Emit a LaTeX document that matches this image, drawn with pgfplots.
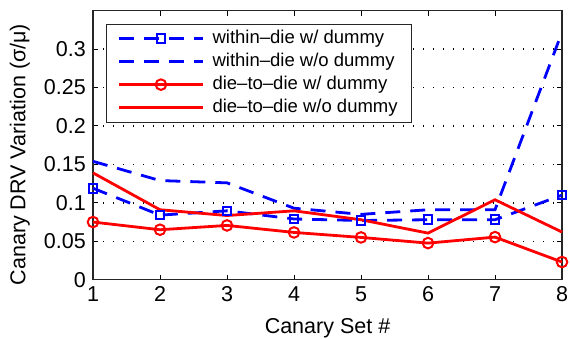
\documentclass[border=0pt]{standalone}
\usepackage{pgfplots}
\pgfplotsset{compat=1.18}
\usepackage{fontspec}
\setmainfont{Liberation Sans}
\definecolor{mblue}{RGB}{0,0,255}
\definecolor{mred}{RGB}{255,0,0}
\begin{document}
\fontsize{21bp}{25bp}\selectfont
\begin{tikzpicture}
\begin{axis}[
  scale only axis, width=469bp, height=269bp,
  xmin=1, xmax=8, ymin=0, ymax=0.35,
  xtick={1,2,3,4,5,6,7,8},
  ytick={0,0.05,0.1,0.15,0.2,0.25,0.3},
  yticklabels={0,0.05,0.1,0.15,0.2,0.25,0.3},
  /pgf/number format/assume math mode=true,
  ticklabel style={font=\fontsize{21.5bp}{25bp}\selectfont},
  tick align=inside, tick pos=both,
  major tick length=5bp,
  tick style={line width=1bp, black},
  ymajorgrids,
  major grid style={black, line width=1.4bp, dash pattern=on 1.4bp off 8.6bp},
  axis line style={line width=1.1bp, black!85},
  xlabel={Canary Set \#},
  ylabel={Canary DRV Variation (σ/μ)},
  label style={font=\fontsize{21.5bp}{25bp}\selectfont},
  xlabel style={at={(axis description cs:0.5,-0.182)}, anchor=center},
  ylabel style={at={(axis description cs:-0.156,0.465)}, anchor=center},
  legend cell align=left,
  legend style={at={(rel axis cs:0,1)}, anchor=north west, xshift=13bp, yshift=-13bp,
    font=\fontsize{18.5bp}{22bp}\selectfont, draw=black!85, line width=1.1bp,
    nodes={inner sep=3.2bp}, inner xsep=11bp, inner ysep=3bp,
    /tikz/every odd column/.append style={column sep=5bp}},
  legend image code/.code={\draw[mark repeat=2,mark phase=2,#1] plot coordinates {(0bp,0bp)(42bp,0bp)(84bp,0bp)};},
  clip=false,
]
\addplot[mblue, line width=2.8bp, dash pattern=on 15bp off 10bp, mark=square, mark size=4.3bp, mark options={solid, line width=2bp}]
  coordinates {(1,0.119)(2,0.084)(3,0.0896)(4,0.079)(5,0.077)(6,0.078)(7,0.078)(8,0.110)};
\addlegendentry{within–die w/ dummy}
\addplot[mblue, line width=2.8bp, dash pattern=on 15bp off 10bp]
  coordinates {(1,0.154)(2,0.129)(3,0.126)(4,0.093)(5,0.085)(6,0.091)(7,0.091)(8,0.322)};
\addlegendentry{within–die w/o dummy}
\addplot[mred, line width=2.8bp, mark=o, mark size=5.3bp, mark options={solid, line width=2bp}]
  coordinates {(1,0.075)(2,0.065)(3,0.0706)(4,0.0615)(5,0.055)(6,0.0476)(7,0.0554)(8,0.023)};
\addlegendentry{die–to–die w/ dummy}
\addplot[mred, line width=2.8bp]
  coordinates {(1,0.139)(2,0.091)(3,0.0835)(4,0.0896)(5,0.078)(6,0.0606)(7,0.104)(8,0.062)};
\addlegendentry{die–to–die w/o dummy}
\coordinate (bl) at (rel axis cs:0,0);
\coordinate (tr) at (rel axis cs:1,1);
\end{axis}
\pgfresetboundingbox
\path[use as bounding box] ([shift={(-93bp,-59bp)}]bl) rectangle ([shift={(8bp,10.7bp)}]tr);
\end{tikzpicture}
\end{document}
